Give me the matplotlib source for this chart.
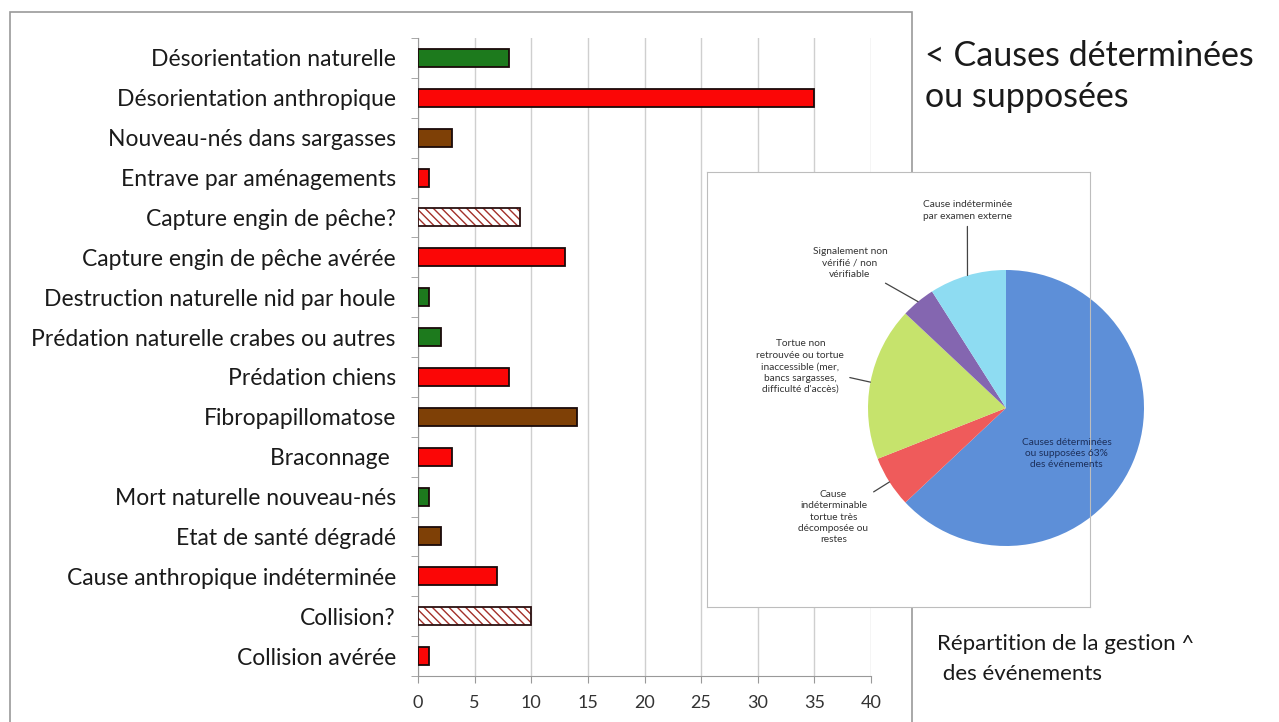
import matplotlib.pyplot as plt
from matplotlib.patches import Rectangle
import numpy as np

plt.rcParams['font.family'] = ['Lato', 'DejaVu Sans']

# données du graphique en barres (de haut en bas)
categories = ["Désorientation naturelle", "Désorientation anthropique", "Nouveau-nés dans sargasses",
              "Entrave par aménagements", "Capture engin de pêche?", "Capture engin de pêche avérée",
              "Destruction naturelle nid par houle", "Prédation naturelle crabes ou autres",
              "Prédation chiens", "Fibropapillomatose", "Braconnage ", "Mort naturelle nouveau-nés",
              "Etat de santé dégradé", "Cause anthropique indéterminée", "Collision?", "Collision avérée"]
values = [8, 35, 3, 1, 9, 13, 1, 2, 8, 14, 3, 1, 2, 7, 10, 1]
kinds = ["naturelle", "anthropique", "sante", "anthropique", "suppose", "anthropique",
         "naturelle", "naturelle", "anthropique", "sante", "anthropique", "naturelle",
         "sante", "anthropique", "suppose", "anthropique"]
xticks = [0, 5, 10, 15, 20, 25, 30, 35, 40]

# données du camembert
pie_labels = ["Causes déterminées\nou supposées 63%\ndes événements",
              "Cause\nindéterminable\ntortue très\ndécomposée ou\nrestes",
              "Tortue non\nretrouvée ou tortue\ninaccessible (mer,\nbancs sargasses,\ndifficulté d'accès)",
              "Signalement non\nvérifié / non\nvérifiable",
              "Cause indéterminée\npar examen externe"]
pie_values = [63, 6, 18, 4, 9]
pie_colors = ["#5d8fd8", "#ef5b5b", "#c6e36c", "#8466b0", "#8edcf2"]

colors = {"naturelle": "#1d7a1d", "anthropique": "#fb0606", "sante": "#7e4006", "suppose": "white"}

W, H = 1279, 722
fig = plt.figure(figsize=(W / 100, H / 100), dpi=100)

# cadre extérieur
fig.patches.append(Rectangle((10 / W, -0.02), 902 / W, 1 - 12 / H + 0.02, transform=fig.transFigure,
                             fill=False, edgecolor="#9a9a9a", linewidth=1.2))

ax = fig.add_axes([418 / W, 1 - 676 / H, 453 / W, 638 / H])
y = np.arange(len(categories))
for yi, v, k in zip(y, values, kinds):
    if k == "suppose":
        ax.barh(yi, v, height=0.45, color="white", edgecolor="#a3302a", hatch="\\\\\\\\", linewidth=0, zorder=3)
        ax.barh(yi, v, height=0.45, color="none", edgecolor="#2a1010", linewidth=1.3, zorder=4)
    else:
        ax.barh(yi, v, height=0.45, color=colors[k], edgecolor="#1a0a0a", linewidth=1.3, zorder=3)

ax.set_ylim(len(categories) - 0.5, -0.5)
ax.set_xlim(0, 40)
ax.set_yticks(y)
ax.set_yticklabels(categories, fontsize=16.5, color="#1a1a1a")
ax.set_yticks(np.arange(-0.5, len(categories), 1), minor=True)
ax.tick_params(axis="y", which="major", length=0, pad=16)
ax.tick_params(axis="y", which="minor", length=5, color="#999999")
ax.set_xticks(xticks)
ax.set_xticklabels([str(t) for t in xticks], fontsize=13, color="#333333")
ax.tick_params(axis="x", length=5, color="#999999", pad=9)
ax.grid(axis="x", color="#cfcfcf", linewidth=1)
ax.set_axisbelow(True)
for s in ["top", "right"]:
    ax.spines[s].set_visible(False)
for s in ["left", "bottom"]:
    ax.spines[s].set_color("#999999")

# textes à droite
fig.text(925 / W, 1 - 40 / H, "< Causes déterminées\nou supposées", fontsize=24.5, color="#1a1a1a",
         va="top", ha="left", linespacing=1.35)
fig.text(937 / W, 1 - 634 / H, "Répartition de la gestion ^\n des événements", fontsize=16,
         color="#1a1a1a", va="top", ha="left", linespacing=1.65)

# encart camembert
pax = fig.add_axes([707 / W, 1 - 607 / H, 383 / W, 435 / H], zorder=5)
wedges, _ = pax.pie(pie_values, colors=pie_colors, startangle=90, counterclock=False,
                    radius=1, frame=True, wedgeprops=dict(linewidth=0))
r = 138.0
pax.set_xlim(-299 / r, 84 / r)
pax.set_ylim(-199 / r, 236 / r)
pax.set_aspect("auto")
pax.set_xticks([])
pax.set_yticks([])
pax.set_facecolor("white")
for s in pax.spines.values():
    s.set_color("#bdbdbd")

text_pos = [(0.44, -0.33), (-1.25, -0.79), (-1.49, 0.30), (-1.13, 1.05), (-0.28, 1.43)]
for i, (w, lab, tp) in enumerate(zip(wedges, pie_labels, text_pos)):
    if i == 0:
        pax.text(tp[0], tp[1], lab, fontsize=7.3, color="#1c2f5a", ha="center", va="center", linespacing=1.35)
        continue
    ang = np.deg2rad((w.theta1 + w.theta2) / 2)
    pax.annotate(lab, xy=(np.cos(ang), np.sin(ang)), xytext=tp, fontsize=7.3, color="#333333",
                 ha="center", va="center", linespacing=1.35,
                 arrowprops=dict(arrowstyle="-", color="#444444", lw=0.9, shrinkA=2, shrinkB=0))

fig.savefig("out.png", dpi=100)
